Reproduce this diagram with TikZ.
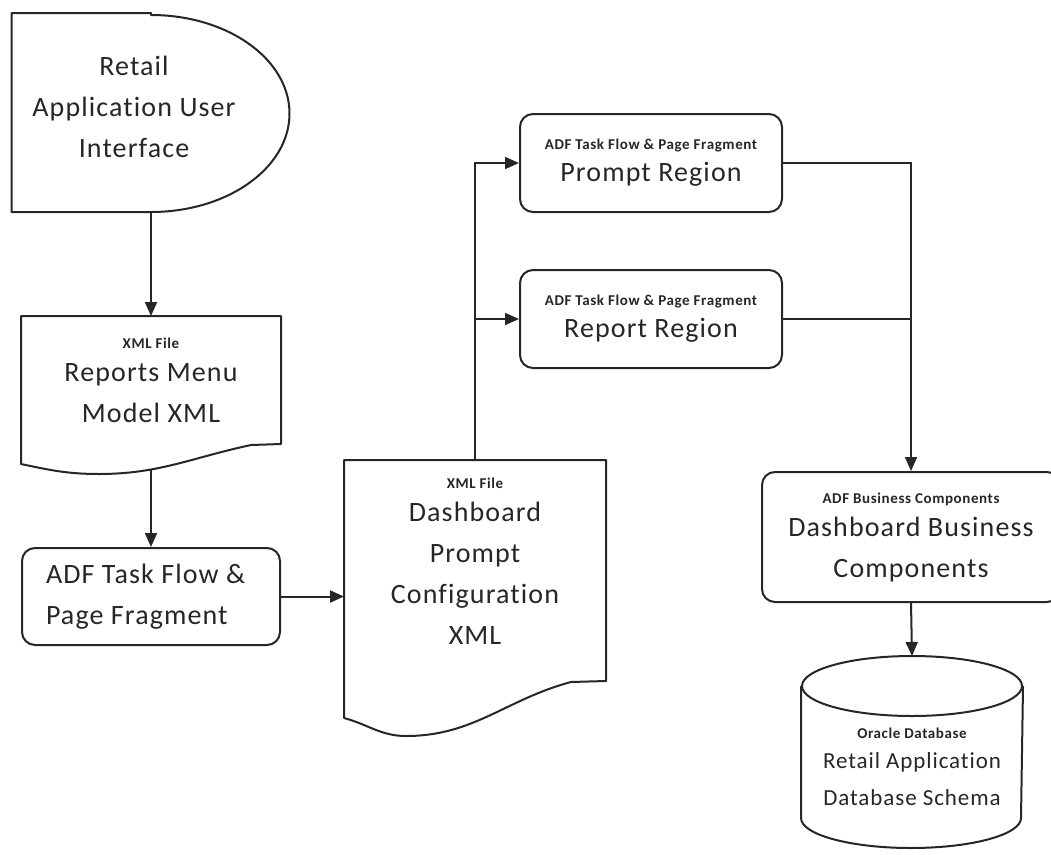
\documentclass[tikz,border=0pt]{standalone}
\usepackage{fontspec}
\setmainfont{Carlito}[LetterSpace=4, Ligatures=NoCommon]
\usetikzlibrary{arrows.meta,positioning,calc}

\newcommand{\smalltag}[1]{{\fontsize{15}{17}\selectfont\bfseries #1}}

\tikzstyle{rb} = [rectangle, draw, rounded corners=13pt, line width=2pt,
    align=center, font=\fontsize{28}{41}\selectfont]
\tikzstyle{shp} = [rectangle, inner sep=0pt, align=center,
    font=\fontsize{28}{41}\selectfont]
\tikzstyle{outline} = [line width=2pt, line join=round]

\begin{document}
\begin{tikzpicture}[x=1pt,y=1pt,color=black!85,line width=2pt,
                    >={Triangle[length=14pt,width=12pt]}]
  \useasboundingbox (0,0) rectangle (1051,-854);

  % user interface, drawn as a display shape
  \node[shp, minimum width=277pt, minimum height=197pt] (ui) at (151,-112.5) {};
  \node[shp] (ui-txt) at (134,-107) {Retail\\Application User\\Interface};
  \draw[outline] (ui.north) -- (ui.north west) -- (ui.south west) -- (ui.south)
    arc[start angle=-90, end angle=90, x radius=138.5, y radius=98.5] -- cycle;

  % menu model document
  \node[shp, minimum width=258pt, minimum height=126pt] (menu) at (151,-380)
    {\smalltag{XML File}\\[-8pt]Reports Menu\\Model XML};
  \draw[outline] (menu.south east) -- (menu.north east) -- (menu.north west)
    -- ($(menu.south west)+(0,-20)$) to[out=-12,in=180] ($(menu.south west)+(78,-30)$)
    to[out=0,in=192] ($(menu.south east)+(-30,-1)$) -- cycle;
  \coordinate (menu-out) at ($(menu.south)+(0,-25)$);

  \node[rb, minimum width=258pt, minimum height=97pt, text width=210pt,
        inner xsep=24pt, align=flush left] (taskflow) at (151,-596.5)
    {ADF Task Flow \&\\Page Fragment};

  % prompt configuration document
  \node[shp, minimum width=260pt, minimum height=200pt] (dash) at (475,-561)
    {\smalltag{XML File}\\[-8pt]Dashboard\\Prompt\\Configuration\\XML};
  \draw[outline] ($(dash.south east)+(0,-19)$) -- (dash.north east) -- (dash.north west)
    -- ($(dash.south west)+(0,-56)$) to[out=-15,in=180] ($(dash.south west)+(62,-74)$)
    to[out=0,in=195] ($(dash.south east)+(-35,-20)$) -- cycle;

  \node[rb, minimum width=262pt, minimum height=98pt] (prompt) at (651,-163)
    {\smalltag{ADF Task Flow \& Page Fragment}\\[-9pt]Prompt Region};
  \node[rb, minimum width=262pt, minimum height=98pt] (report) [below=56pt of prompt]
    {\smalltag{ADF Task Flow \& Page Fragment}\\[-9pt]Report Region};

  \node[rb, minimum width=298pt, minimum height=130pt] (biz) at (911,-537)
    {\smalltag{ADF Business Components}\\[-8pt]Dashboard Business\\Components};

  % database cylinder
  \node[shp, minimum width=220pt, minimum height=160pt,
        font=\fontsize{23}{37}\selectfont] (schema) at (912,-767)
    {\smalltag{Oracle Database}\\[-7pt]Retail Application\\Database Schema};
  \draw[outline] (schema.north) ellipse[x radius=110, y radius=30];
  \draw[outline] (schema.north west) -- ($(schema.south west)+(0,30)$)
    arc[start angle=180, end angle=360, x radius=110, y radius=30] -- (schema.north east);
  \coordinate (schema-in) at ($(schema.north)+(0,30)$);

  % connectors
  \draw[->] (ui.south) -- (menu.north);
  \draw[->] (menu-out) -- (taskflow.north);
  \draw[->] (taskflow.east) -- (taskflow.east -| dash.west);
  \draw[->] (dash.north) |- (prompt.west);
  \draw[->] (dash.north) |- (report.west);
  \draw[->] (prompt.east) -| (biz.north);
  \draw (report.east) -- (report.east -| biz.north);
  \draw[->] (biz.south) -- (schema-in);
\end{tikzpicture}
\end{document}
